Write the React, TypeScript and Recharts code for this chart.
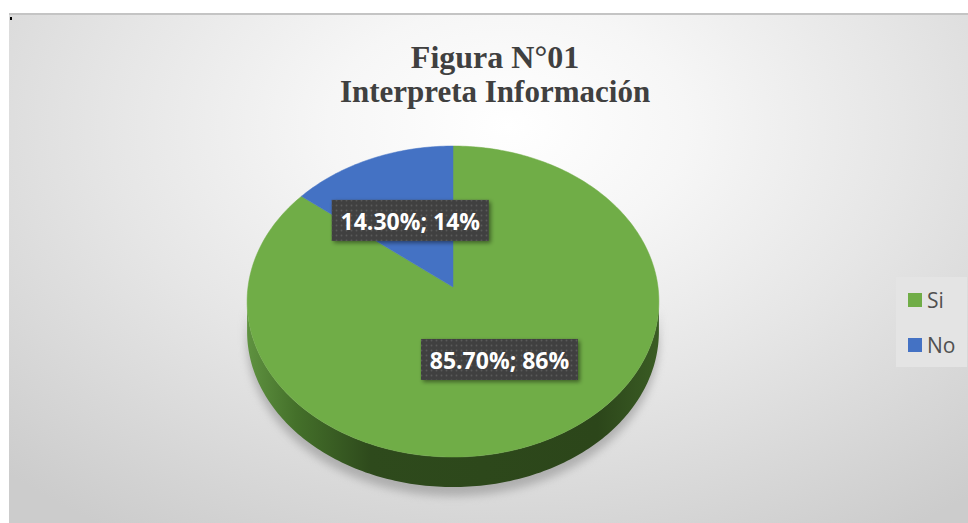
import React from 'react';
import { PieChart, Pie, Cell, Legend } from 'recharts';

const categories = ['Si', 'No'];
const values = [85.7, 14.3];
const colors = ['#70ad47', '#4472c4'];
const titleLines = ['Figura N°01', 'Interpreta Información'];

const data = categories.map((name, i) => ({ name, value: values[i] }));

const RAD = Math.PI / 180;
const PERSP = 0.0934;
const RY = 0.752;
const DEPTH = 30;

function proj(cx: number, cy: number, R: number, a: number, k = 1): [number, number] {
  const u = Math.cos(a * RAD) * k;
  const v = Math.sin(a * RAD) * k;
  const D = 1 + PERSP * v;
  return [cx + (R * u) / D, cy - (R * RY * v) / D];
}

function arcPoints(cx: number, cy: number, R: number, a0: number, a1: number, dy = 0) {
  const pts: string[] = [];
  const n = Math.max(2, Math.ceil(Math.abs(a1 - a0)));
  for (let i = 0; i <= n; i++) {
    const a = a0 + ((a1 - a0) * i) / n;
    const [x, y] = proj(cx, cy, R, a);
    pts.push(`${x.toFixed(2)},${(y + dy).toFixed(2)}`);
  }
  return pts;
}

const TopShape = (props: any) => {
  const { cx, cy, outerRadius, startAngle, endAngle, fill } = props;
  const pts = arcPoints(cx, cy, outerRadius, startAngle, endAngle);
  const d = `M${cx},${cy} L${pts.join(' L')} Z`;
  return <path d={d} fill={fill} stroke={fill} strokeWidth={0.5} />;
};

const SIL = Math.asin(PERSP) / RAD;

const SideShape = (props: any) => {
  const { cx, cy, outerRadius, startAngle, endAngle } = props;
  const lo = Math.min(startAngle, endAngle);
  const hi = Math.max(startAngle, endAngle);
  const pieces: React.ReactNode[] = [];
  for (let k = -2; k <= 2; k++) {
    const vLo = -180 + SIL + 360 * k;
    const vHi = -SIL + 360 * k;
    const a0 = Math.max(lo, vLo);
    const a1 = Math.min(hi, vHi);
    if (a1 > a0) {
      const top = arcPoints(cx, cy, outerRadius, a0, a1);
      const bot = arcPoints(cx, cy, outerRadius, a1, a0, DEPTH);
      const d = `M${top.join(' L')} L${bot.join(' L')} Z`;
      const shadow = arcPoints(cx, cy, outerRadius, a1, a0, DEPTH + 9);
      const ds = `M${top.join(' L')} L${shadow.join(' L')} Z`;
      pieces.push(
        <g key={k}>
          <path d={ds} fill="#8a8a8a" opacity={0.55} filter="url(#pieShadow)" />
          <path d={d} fill="url(#sideGrad)" />
        </g>
      );
    }
  }
  return <g>{pieces}</g>;
};

const renderLabel = (props: any) => {
  const { cx, cy, outerRadius, midAngle, value, percent } = props;
  const [x, y] = proj(cx, cy, outerRadius, midAngle, 0.5);
  const w = 157;
  const h = 41;
  const text = `${Number(value).toFixed(2)}%; ${Math.round(percent * 100)}%`;
  return (
    <g>
      <rect x={x - w / 2} y={y - h / 2} width={w} height={h} fill="#404040" filter="url(#boxShadow)" />
      <rect x={x - w / 2} y={y - h / 2} width={w} height={h} fill="url(#dots)" />
      <text
        x={x}
        y={y + 1}
        textAnchor="middle"
        dominantBaseline="central"
        fill="#ffffff"
        fontFamily="'Open Sans', sans-serif"
        fontWeight={700}
        fontSize={23}
      >
        {text}
      </text>
    </g>
  );
};

const renderLegend = (props: any) => {
  const { payload } = props;
  const seen: Record<string, any> = {};
  (payload || []).forEach((p: any) => {
    if (!seen[p.value]) seen[p.value] = p;
  });
  const items = categories.filter((c) => seen[c]).map((c) => seen[c]);
  return (
    <div
      style={{
        width: 71,
        height: 90,
        background: '#e4e4e4',
        position: 'relative',
        fontFamily: "'Open Sans', sans-serif",
      }}
    >
      {items.map((p: any, i: number) => (
        <div
          key={i}
          style={{
            position: 'absolute',
            left: 12,
            top: 16 + i * 45,
            height: 14,
            display: 'flex',
            alignItems: 'center',
          }}
        >
          <span style={{ width: 14, height: 14, background: p.color, display: 'inline-block', flexShrink: 0 }} />
          <span style={{ marginLeft: 5, fontSize: 21, color: '#505050', lineHeight: '14px' }}>{p.value}</span>
        </div>
      ))}
    </div>
  );
};

export default function App() {
  return (
    <div
      style={{
        position: 'absolute',
        left: 9,
        top: 13,
        width: 959,
        height: 510,
        boxSizing: 'border-box',
        borderTop: '2px solid #c4c4c4',
        background: 'radial-gradient(ellipse 75% 95% at 52% 22%, #ffffff 0%, #f6f6f6 25%, #e6e6e6 55%, #cccccc 100%)',
        overflow: 'hidden',
      }}
    >
      <div style={{ position: 'absolute', left: 1, top: 2, width: 2, height: 3, background: '#000' }} />
      <PieChart
        width={959}
        height={508}
        margin={{ top: 0, right: 0, bottom: 0, left: 0 }}
        style={{ position: 'absolute', left: 0, top: -2 }}
      >
        <defs>
          <linearGradient id="sideGrad" x1="0" y1="0" x2="1" y2="0">
            <stop offset="0" stopColor="#5f9240" />
            <stop offset="0.12" stopColor="#44702a" />
            <stop offset="0.3" stopColor="#2e4a1c" />
            <stop offset="0.85" stopColor="#2c461a" />
            <stop offset="1" stopColor="#3a5c24" />
          </linearGradient>
          <filter id="pieShadow" x="-20%" y="-50%" width="140%" height="200%">
            <feGaussianBlur stdDeviation="4" />
          </filter>
          <filter id="boxShadow" x="-20%" y="-30%" width="140%" height="160%">
            <feDropShadow dx="2" dy="2" stdDeviation="2" floodColor="#000" floodOpacity="0.45" />
          </filter>
          <pattern id="dots" x="0" y="0" width="5" height="5" patternUnits="userSpaceOnUse">
            <circle cx="2.5" cy="2.5" r="0.9" fill="#5a5a5a" />
          </pattern>
        </defs>
        <text
          x={486}
          y={55}
          textAnchor="middle"
          fontFamily="'Liberation Serif', 'Times New Roman', serif"
          fontWeight={700}
          fontSize={32}
          fill="#404040"
        >
          {titleLines[0]}
        </text>
        <text
          x={486}
          y={89}
          textAnchor="middle"
          fontFamily="'Liberation Serif', 'Times New Roman', serif"
          fontWeight={700}
          fontSize={31}
          fill="#404040"
        >
          {titleLines[1]}
        </text>
        <Pie
          data={data}
          dataKey="value"
          nameKey="name"
          cx={444}
          cy={274}
          outerRadius={205}
          startAngle={90}
          endAngle={-270}
          stroke="none"
          isAnimationActive={false}
          legendType="none"
          shape={SideShape}
          label={false}
          labelLine={false}
        >
          {data.map((d, i) => (
            <Cell key={d.name} fill={colors[i]} />
          ))}
        </Pie>
        <Pie
          data={data}
          dataKey="value"
          nameKey="name"
          cx={444}
          cy={274}
          outerRadius={205}
          startAngle={90}
          endAngle={-270}
          stroke="none"
          isAnimationActive={false}
          legendType="square"
          shape={TopShape}
          label={renderLabel}
          labelLine={false}
        >
          {data.map((d, i) => (
            <Cell key={d.name} fill={colors[i]} />
          ))}
        </Pie>
        <Legend
          content={renderLegend}
          wrapperStyle={{ position: 'absolute', left: 887, top: 264, width: 71, height: 90 }}
        />
      </PieChart>
    </div>
  );
}
